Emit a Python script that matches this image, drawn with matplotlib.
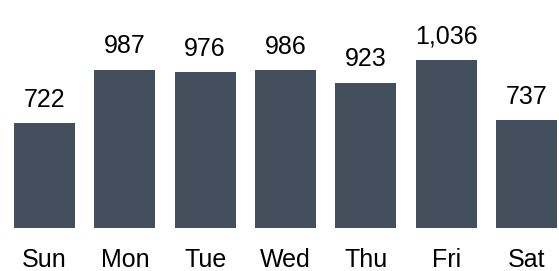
import matplotlib.pyplot as plt

plt.rcParams['font.family'] = ['Liberation Sans', 'DejaVu Sans']

days = ['Sun', 'Mon', 'Tue', 'Wed', 'Thu', 'Fri', 'Sat']
counts = [722, 987, 976, 986, 923, 1036, 737]

fig = plt.figure(figsize=(5.59, 2.71), dpi=100)
ax = fig.add_axes([0, 43 / 271, 1, 228 / 271])

x = range(len(days))
bars = ax.bar(x, counts, width=0.76, color='#444f5d')

# axis does not start at zero in the original
ax.set_xlim(-0.554, 6.405)
ax.set_ylim(200, 1336)

for b, v in zip(bars, counts):
    ax.annotate(f'{v:,}', (b.get_x() + b.get_width() / 2, v),
                xytext=(0, 12), textcoords='offset points',
                ha='center', va='baseline', fontsize=18, color='black')

ax.set_xticks(list(x))
ax.set_xticklabels(days, fontsize=18)
ax.tick_params(axis='x', length=0, pad=14.5)
ax.set_yticks([])
for s in ax.spines.values():
    s.set_visible(False)

fig.savefig('out.png', dpi=100)
